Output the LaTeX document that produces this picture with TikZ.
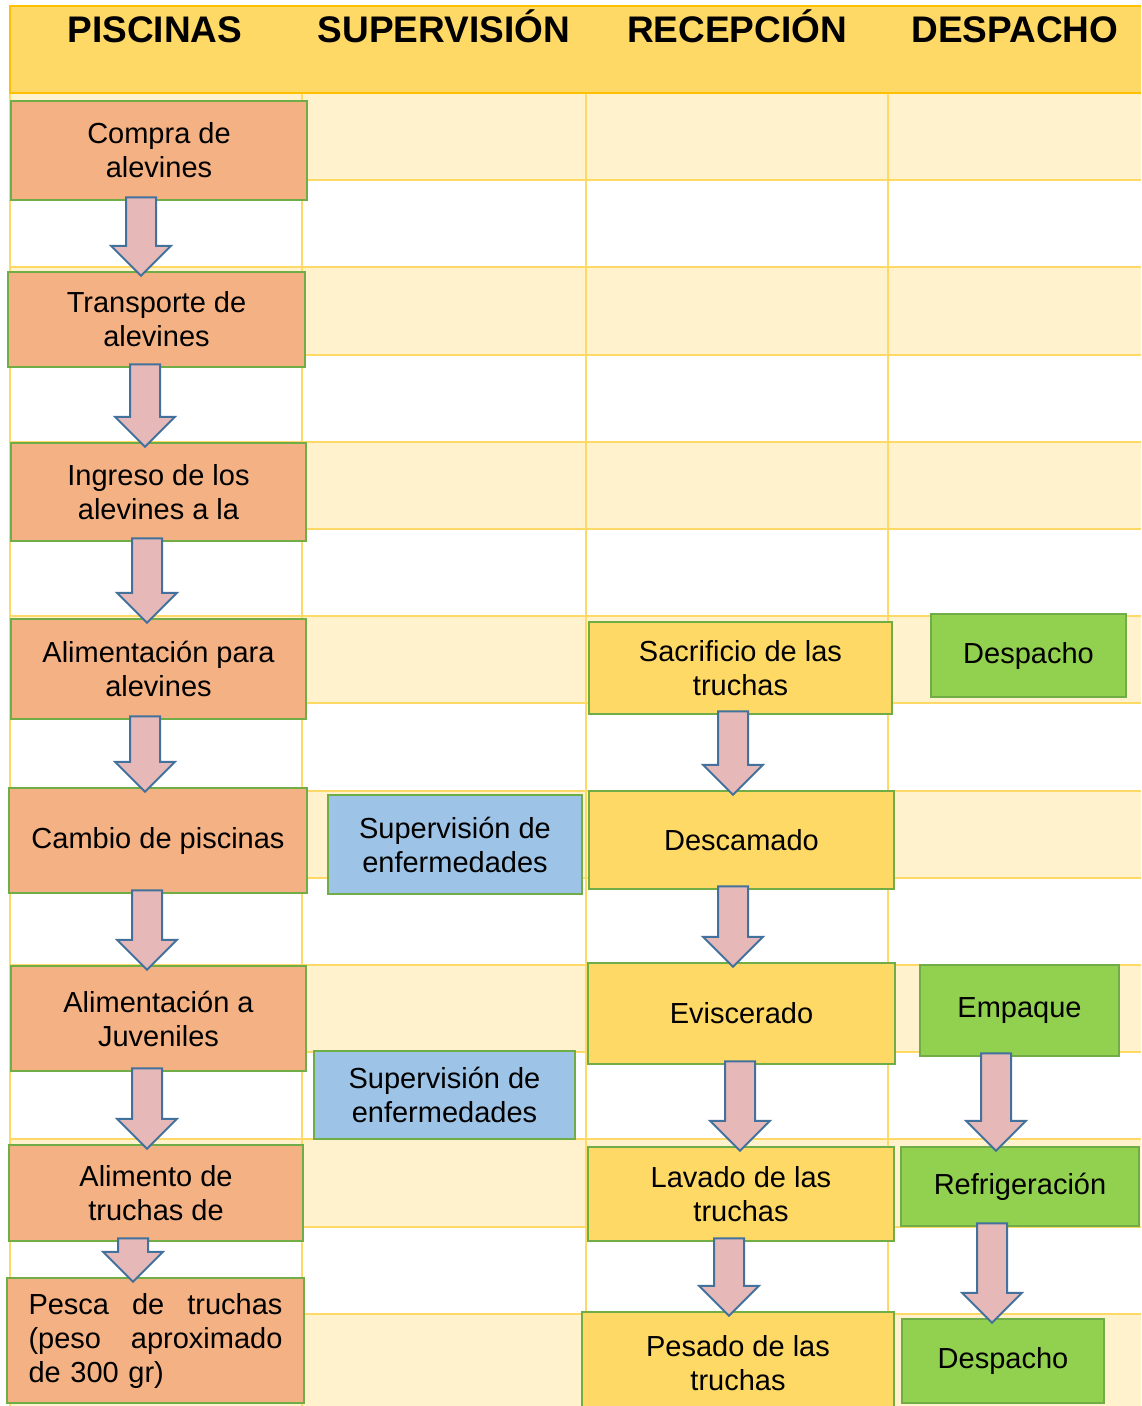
\documentclass[tikz,border=0pt]{standalone}
\usepackage{fontspec}
\setmainfont{Liberation Sans}
\usepackage{xcolor}
\usetikzlibrary{calc}

\definecolor{hdrfill}{HTML}{FFD966}
\definecolor{hdrline}{HTML}{FFC000}
\definecolor{rowlight}{HTML}{FFF2CC}
\definecolor{gridline}{HTML}{FFD966}
\definecolor{boxorange}{HTML}{F4B183}
\definecolor{boxblue}{HTML}{9DC3E6}
\definecolor{boxyellow}{HTML}{FFD966}
\definecolor{boxgreen}{HTML}{92D050}
\definecolor{boxedge}{HTML}{70AD47}
\definecolor{arrowpink}{HTML}{E6B9B8}
\definecolor{arrowblue}{HTML}{41719C}

\tikzset{
  stage/.style={rectangle, draw=boxedge, line width=2.5pt, align=center, inner sep=0pt,
    font=\fontsize{29}{34}\selectfont},
  pisc/.style={stage, fill=boxorange},
  superv/.style={stage, fill=boxblue},
  recep/.style={stage, fill=boxyellow},
  desp/.style={stage, fill=boxgreen},
  lanetitle/.style={anchor=base, font=\fontsize{37}{40}\selectfont\bfseries},
  blockarr/.style={draw=arrowblue, fill=arrowpink, line width=2pt,
    to path={let \p1=(\tikztostart), \p2=(\tikztotarget) in
      (\x1-15pt,\y1+4pt) -- (\x1+15pt,\y1+4pt) -- (\x1+15pt,\y2+25pt) -- (\x1+30pt,\y2+25pt)
      -- (\x1,\y2-5pt) -- (\x1-30pt,\y2+25pt) -- (\x1-15pt,\y2+25pt) -- cycle}}
}

\begin{document}
\begin{tikzpicture}[x=1pt, y=-1pt]
  \useasboundingbox (0,0) rectangle (1141,1406);

  % lanes
  \foreach \i in {0,2,...,12}
    \fill[rowlight] (10,{93+87.2*\i}) rectangle (1141,{93+87.2*(\i+1)});
  \fill[rowlight] (10,{93+87.2*14}) rectangle (1141,1406);
  \foreach \i in {1,...,14}
    \draw[gridline, line width=2pt] (10,{93+87.2*\i}) -- (1141,{93+87.2*\i});
  \foreach \x in {10,302,586,888}
    \draw[gridline, line width=2pt] (\x,93) -- (\x,1406);

  % header
  \fill[hdrfill] (10,6) rectangle (1141,93);
  \draw[hdrline, line width=2pt] (1141,6) -- (10,6) -- (10,93) -- (1141,93);
  \node[lanetitle] (tpisc) at (155,42.5) {PISCINAS};
  \node[lanetitle] (tsup) at (444,42.5) {SUPERVISIÓN};
  \node[lanetitle] (trec) at (737,42.5) {RECEPCIÓN};
  \node[lanetitle] (tdesp) at (1015,42.5) {DESPACHO};

  % piscinas
  \node[pisc, minimum width=296pt, minimum height=99pt] (compra) at (159,150.5) {Compra de\\alevines};
  \node[pisc, minimum width=297pt, minimum height=95pt] (transporte) at (156.5,319.5) {Transporte de\\alevines};
  \node[pisc, minimum width=295pt, minimum height=98pt] (ingreso) at (158.5,492) {Ingreso de los\\alevines a la};
  \node[pisc, minimum width=295pt, minimum height=100pt] (alimal) at (158.5,669) {Alimentación para\\alevines};
  \node[pisc, minimum width=298pt, minimum height=105pt] (cambio) at (158,840.5) {Cambio de piscinas};
  \node[pisc, minimum width=295pt, minimum height=105pt] (juveniles) at (158.5,1018.5) {Alimentación a\\Juveniles};
  \node[pisc, minimum width=294pt, minimum height=96pt] (alimento) at (156,1193) {Alimento de\\truchas de};
  \node[pisc, minimum width=297pt, minimum height=125pt, text width=254pt, align=left] (pesca) at (155.5,1340.5)
    {\leavevmode\hbox to 254pt{Pesca\hfill de\hfill truchas}\\
     \leavevmode\hbox to 254pt{(peso\hfill aproximado}\\
     de 300 gr)};

  % supervision
  \node[superv, minimum width=254pt, minimum height=99pt] (supA) at (455,844.5) {Supervisión de\\enfermedades};
  \node[superv, minimum width=261pt, minimum height=88pt] (supB) at (444.5,1095) {Supervisión de\\enfermedades};

  % recepcion
  \node[recep, minimum width=303pt, minimum height=92pt] (sacrificio) at (740.5,668) {Sacrificio de las\\truchas};
  \node[recep, minimum width=305pt, minimum height=98pt] (descamado) at (741.5,840) {Descamado};
  \node[recep, minimum width=307pt, minimum height=101pt] (eviscerado) at (741.5,1013.5) {Eviscerado};
  \node[recep, minimum width=306pt, minimum height=94pt] (lavado) at (741,1194) {Lavado de las\\truchas};
  \node[recep, minimum width=312pt, minimum height=102pt] (pesado) at (738,1363) {Pesado de las\\truchas};

  % despacho
  \node[desp, minimum width=195pt, minimum height=83pt] (despA) at (1028.5,655.5) {Despacho};
  \node[desp, minimum width=199pt, minimum height=91pt] (empaque) at (1019.5,1010.5) {Empaque};
  \node[desp, minimum width=238pt, minimum height=79pt] (refrig) at (1020,1186.5) {Refrigeración};
  \node[desp, minimum width=202pt, minimum height=84pt] (despB) at (1003,1361) {Despacho};

  % flechas
  \draw[blockarr] ([xshift=-18pt]compra.south) to (transporte.north);
  \draw[blockarr] ([xshift=-11.5pt]transporte.south) to (ingreso.north);
  \draw[blockarr] ([xshift=-11.5pt]ingreso.south) to (alimal.north);
  \draw[blockarr] ([xshift=-13.5pt]alimal.south) to (cambio.north);
  \draw[blockarr] ([xshift=-11pt]cambio.south) to (juveniles.north);
  \draw[blockarr] ([xshift=-11.5pt]juveniles.south) to (alimento.north);
  \draw[blockarr] ([xshift=-23pt]alimento.south) to (pesca.north);
  \draw[blockarr] ([xshift=-7.5pt]sacrificio.south) to (descamado.north);
  \draw[blockarr] ([xshift=-8.5pt]descamado.south) to (eviscerado.north);
  \draw[blockarr] ([xshift=-1.5pt]eviscerado.south) to (lavado.north);
  \draw[blockarr] ([xshift=-12pt]lavado.south) to (pesado.north);
  \draw[blockarr] ([xshift=-23.5pt]empaque.south) to (refrig.north);
  \draw[blockarr] ([xshift=-28pt]refrig.south) to (despB.north);
\end{tikzpicture}
\end{document}
